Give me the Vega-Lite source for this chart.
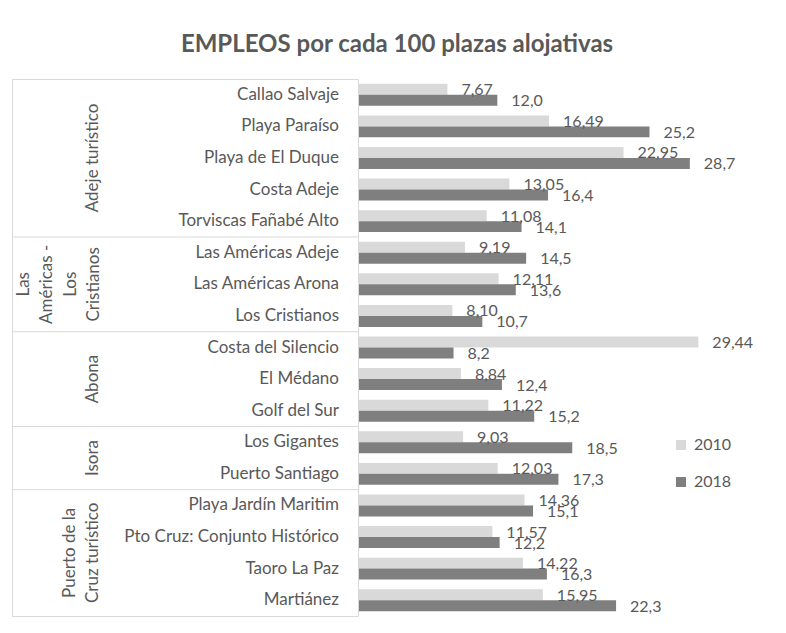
{
  "$schema": "https://vega.github.io/schema/vega-lite/v6.json",
  "padding": {"left": 11, "top": 32, "right": 0, "bottom": 0},
  "background": "white",
  "title": {"text": "EMPLEOS por cada 100 plazas alojativas", "anchor": "middle", "dx": 12, "fontSize": 24, "font": "Lato", "fontWeight": "bold", "color": "#595959", "offset": 22},
  "config": {
    "locale": {"number": {"decimal": ",", "thousands": ".", "grouping": [3], "currency": ["", " €"]}},
    "font": "Lato",
    "concat": {"spacing": 0},
    "legend": {"orient": "none", "legendX": 661, "legendY": 358, "padding": 0}
  },
  "datasets": {
    "bars": [
      {"zona": "Callao Salvaje", "year": "2010", "value": 7.67},
      {"zona": "Callao Salvaje", "year": "2018", "value": 12.0},
      {"zona": "Playa Paraíso", "year": "2010", "value": 16.49},
      {"zona": "Playa Paraíso", "year": "2018", "value": 25.2},
      {"zona": "Playa de El Duque", "year": "2010", "value": 22.95},
      {"zona": "Playa de El Duque", "year": "2018", "value": 28.7},
      {"zona": "Costa Adeje", "year": "2010", "value": 13.05},
      {"zona": "Costa Adeje", "year": "2018", "value": 16.4},
      {"zona": "Torviscas Fañabé Alto", "year": "2010", "value": 11.08},
      {"zona": "Torviscas Fañabé Alto", "year": "2018", "value": 14.1},
      {"zona": "Las Américas Adeje", "year": "2010", "value": 9.19},
      {"zona": "Las Américas Adeje", "year": "2018", "value": 14.5},
      {"zona": "Las Américas Arona", "year": "2010", "value": 12.11},
      {"zona": "Las Américas Arona", "year": "2018", "value": 13.6},
      {"zona": "Los Cristianos", "year": "2010", "value": 8.10},
      {"zona": "Los Cristianos", "year": "2018", "value": 10.7},
      {"zona": "Costa del Silencio", "year": "2010", "value": 29.44},
      {"zona": "Costa del Silencio", "year": "2018", "value": 8.2},
      {"zona": "El Médano", "year": "2010", "value": 8.84},
      {"zona": "El Médano", "year": "2018", "value": 12.4},
      {"zona": "Golf del Sur", "year": "2010", "value": 11.22},
      {"zona": "Golf del Sur", "year": "2018", "value": 15.2},
      {"zona": "Los Gigantes", "year": "2010", "value": 9.03},
      {"zona": "Los Gigantes", "year": "2018", "value": 18.5},
      {"zona": "Puerto Santiago", "year": "2010", "value": 12.03},
      {"zona": "Puerto Santiago", "year": "2018", "value": 17.3},
      {"zona": "Playa Jardín Maritim", "year": "2010", "value": 14.36},
      {"zona": "Playa Jardín Maritim", "year": "2018", "value": 15.1},
      {"zona": "Pto Cruz: Conjunto Histórico", "year": "2010", "value": 11.57},
      {"zona": "Pto Cruz: Conjunto Histórico", "year": "2018", "value": 12.2},
      {"zona": "Taoro La Paz", "year": "2010", "value": 14.22},
      {"zona": "Taoro La Paz", "year": "2018", "value": 16.3},
      {"zona": "Martiánez", "year": "2010", "value": 15.95},
      {"zona": "Martiánez", "year": "2018", "value": 22.3}
    ],
    "groups": [
      {"grupo": "Adeje turístico", "ancla": "Playa de El Duque"},
      {"grupo": "Las\nAméricas -\nLos\nCristianos", "ancla": "Las Américas Arona"},
      {"grupo": "Abona", "ancla": "El Médano"},
      {"grupo": "Isora", "ancla": "Los Gigantes"},
      {"grupo": "Puerto de la\nCruz turístico", "ancla": "Pto Cruz: Conjunto Histórico"}
    ],
    "starts": [
      {"inicio": "Las Américas Adeje"},
      {"inicio": "Costa del Silencio"},
      {"inicio": "Los Gigantes"},
      {"inicio": "Playa Jardín Maritim"}
    ]
  },
  "hconcat": [
    {
      "width": 346,
      "height": 537,
      "view": {"stroke": "#d9d9d9", "strokeWidth": 1},
      "layer": [
        {
          "data": {"name": "starts"},
          "mark": {"type": "rule", "color": "#d9d9d9", "strokeWidth": 1},
          "encoding": {
            "y": {
              "field": "inicio", "type": "nominal", "bandPosition": 0, "axis": null,
              "scale": {"domain": ["Callao Salvaje", "Playa Paraíso", "Playa de El Duque", "Costa Adeje", "Torviscas Fañabé Alto", "Las Américas Adeje", "Las Américas Arona", "Los Cristianos", "Costa del Silencio", "El Médano", "Golf del Sur", "Los Gigantes", "Puerto Santiago", "Playa Jardín Maritim", "Pto Cruz: Conjunto Histórico", "Taoro La Paz", "Martiánez"], "paddingInner": 0, "paddingOuter": 0}
            }
          }
        },
        {
          "data": {"name": "bars"},
          "transform": [{"filter": "datum.year == '2010'"}],
          "mark": {"type": "text", "align": "right", "baseline": "middle", "dx": 154, "fontSize": 17, "font": "Lato", "color": "#595959"},
          "encoding": {
            "y": {"field": "zona", "type": "nominal", "axis": null},
            "text": {"field": "zona", "type": "nominal"}
          }
        },
        {
          "data": {"name": "groups"},
          "transform": [{"filter": {"field": "grupo", "oneOf": ["Adeje turístico", "Abona"]}}],
          "mark": {"type": "text", "angle": 270, "align": "center", "baseline": "bottom", "dy": -83, "lineBreak": "\n", "lineHeight": 23.3, "fontSize": 17, "font": "Lato", "color": "#595959"},
          "encoding": {
            "y": {"field": "ancla", "type": "nominal", "bandPosition": 0.5, "axis": null},
            "text": {"field": "grupo", "type": "nominal"}
          }
        },
        {
          "data": {"name": "groups"},
          "transform": [{"filter": {"field": "grupo", "oneOf": ["Las\nAméricas -\nLos\nCristianos"]}}],
          "mark": {"type": "text", "angle": 270, "align": "center", "baseline": "bottom", "dy": -152, "lineBreak": "\n", "lineHeight": 23.3, "fontSize": 17, "font": "Lato", "color": "#595959"},
          "encoding": {
            "y": {"field": "ancla", "type": "nominal", "bandPosition": 0.5, "axis": null},
            "text": {"field": "grupo", "type": "nominal"}
          }
        },
        {
          "data": {"name": "groups"},
          "transform": [{"filter": {"field": "grupo", "oneOf": ["Isora"]}}],
          "mark": {"type": "text", "angle": 270, "align": "center", "baseline": "bottom", "dy": -83, "lineBreak": "\n", "lineHeight": 23.3, "fontSize": 17, "font": "Lato", "color": "#595959"},
          "encoding": {
            "y": {"field": "ancla", "type": "nominal", "bandPosition": 1, "axis": null},
            "text": {"field": "grupo", "type": "nominal"}
          }
        },
        {
          "data": {"name": "groups"},
          "transform": [{"filter": {"field": "grupo", "oneOf": ["Puerto de la\nCruz turístico"]}}],
          "mark": {"type": "text", "angle": 270, "align": "center", "baseline": "bottom", "dy": -106, "lineBreak": "\n", "lineHeight": 23.3, "fontSize": 17, "font": "Lato", "color": "#595959"},
          "encoding": {
            "y": {"field": "ancla", "type": "nominal", "bandPosition": 1, "axis": null},
            "text": {"field": "grupo", "type": "nominal"}
          }
        }
      ]
    },
    {
      "width": 400,
      "height": 537,
      "view": {"stroke": null},
      "data": {"name": "bars"},
      "encoding": {
        "y": {"field": "zona", "type": "nominal", "sort": null, "axis": null,
              "scale": {"domain": ["Callao Salvaje", "Playa Paraíso", "Playa de El Duque", "Costa Adeje", "Torviscas Fañabé Alto", "Las Américas Adeje", "Las Américas Arona", "Los Cristianos", "Costa del Silencio", "El Médano", "Golf del Sur", "Los Gigantes", "Puerto Santiago", "Playa Jardín Maritim", "Pto Cruz: Conjunto Histórico", "Taoro La Paz", "Martiánez"], "paddingInner": 0, "paddingOuter": 0}},
        "yOffset": {"field": "year", "type": "nominal", "scale": {"domain": ["2010", "2018"], "paddingInner": 0, "paddingOuter": 0.44}},
        "x": {"field": "value", "type": "quantitative", "axis": null, "scale": {"domain": [0, 34.7], "nice": false, "zero": true}}
      },
      "layer": [
        {
          "mark": {"type": "bar"},
          "encoding": {
            "color": {"field": "year", "type": "nominal", "title": null,
                      "scale": {"domain": ["2010", "2018"], "range": ["#d9d9d9", "#7f7f7f"]},
                      "legend": {"symbolType": "square", "symbolSize": 100, "symbolStrokeWidth": 0, "labelFontSize": 16, "labelFont": "Lato", "labelColor": "#595959", "rowPadding": 21, "labelOffset": 5}}
          }
        },
        {
          "transform": [{"filter": "datum.year == '2010'"}],
          "mark": {"type": "text", "align": "left", "baseline": "middle", "dx": 14, "dy": 1, "fontSize": 16, "font": "Lato", "color": "#595959"},
          "encoding": {"text": {"field": "value", "type": "quantitative", "format": ".2f"}}
        },
        {
          "transform": [{"filter": "datum.year == '2018'"}],
          "mark": {"type": "text", "align": "left", "baseline": "middle", "dx": 14, "dy": 1, "fontSize": 16, "font": "Lato", "color": "#595959"},
          "encoding": {"text": {"field": "value", "type": "quantitative", "format": ".1f"}}
        }
      ]
    }
  ]
}
